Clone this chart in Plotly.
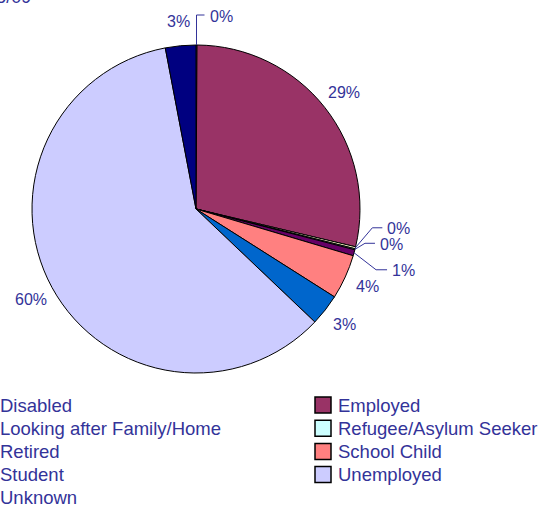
import math
import plotly.graph_objects as go

# ---- data ----
categories = ["Disabled", "Employed", "Looking after Family/Home", "Refugee/Asylum Seeker",
              "Retired", "School Child", "Student", "Unemployed", "Unknown"]
values = [0.1, 28.6, 0.2, 0.1, 0.6, 4.4, 3.1, 59.9, 3.0]
colors = ["#9999FF", "#993366", "#FFFFCC", "#CCFFFF", "#660066",
          "#FF8080", "#0066CC", "#CCCCFF", "#000080"]
title_text = "Client Employment Status 2008/09"

# ---- layout constants (pixels) ----
W, H = 541, 510
CX, CY, R = 196, 209, 164
LABEL_R = 188
TEXT_COLOR = "#333399"
FONT = "Liberation Sans, Arial, sans-serif"
# leader-line elbows for tiny slices: (dx, dy) from edge point, tail length
leaders = {
    "Disabled": (0, -30, 8),
    "Looking after Family/Home": (17, -20, 10),
    "Refugee/Asylum Seeker": (10, -6, 10),
    "Retired": (22, 17, 11),
}
# manual legend geometry: two columns, row-major
LEG_TEXT_X = [-2, 336]
LEG_ROW0_Y = 405
LEG_ROW_DY = 23.2
LEG_BOX = 16
LEG_BOX_GAP = 5


def px(x):
    return x / W


def py(y):
    return 1 - y / H


fig = go.Figure()
fig.add_trace(go.Pie(
    labels=categories, values=values, sort=False, direction="clockwise", rotation=0,
    marker=dict(colors=colors, line=dict(color="black", width=1)),
    textinfo="none", hoverinfo="label+percent", showlegend=False,
    domain=dict(x=[px(CX - R), px(CX + R)], y=[py(CY + R), py(CY - R)]),
))

total = sum(values)
cum = 0.0
annotations = []
shapes = []
for cat, v in zip(categories, values):
    mid = (cum + v / 2) / total * 360.0
    cum += v
    pct = f"{round(v / total * 100):.0f}%"
    s, c = math.sin(math.radians(mid)), math.cos(math.radians(mid))
    if cat in leaders:
        dx, dy, tail = leaders[cat]
        ex, ey = CX + R * s, CY - R * c
        bx, by = ex + dx, ey + dy
        tx = bx + tail
        shapes.append(dict(type="path", xref="paper", yref="paper",
                           path=f"M {px(ex)},{py(ey)} L {px(bx)},{py(by)} L {px(tx)},{py(by)}",
                           line=dict(color=TEXT_COLOR, width=1)))
        annotations.append(dict(x=px(tx + 3), y=py(by + 1), xref="paper", yref="paper",
                                text=pct, showarrow=False, xanchor="left", yanchor="middle",
                                font=dict(size=16, color=TEXT_COLOR, family=FONT)))
    else:
        lx, ly = CX + LABEL_R * s, CY - LABEL_R * c
        annotations.append(dict(x=px(lx), y=py(ly), xref="paper", yref="paper",
                                text=pct, showarrow=False, xanchor="center", yanchor="middle",
                                font=dict(size=16, color=TEXT_COLOR, family=FONT)))

# legend (row-major, two columns)
for i, (cat, col) in enumerate(zip(categories, colors)):
    row, colno = divmod(i, 2)
    tx = LEG_TEXT_X[colno]
    ty = LEG_ROW0_Y + row * LEG_ROW_DY
    x1 = tx - LEG_BOX_GAP
    x0 = x1 - LEG_BOX
    shapes.append(dict(type="rect", xref="paper", yref="paper",
                       x0=px(x0), x1=px(x1), y0=py(ty + LEG_BOX / 2), y1=py(ty - LEG_BOX / 2),
                       fillcolor=col, line=dict(color="black", width=1.5)))
    annotations.append(dict(x=px(tx), y=py(ty), xref="paper", yref="paper", text=cat,
                            showarrow=False, xanchor="left", yanchor="middle",
                            font=dict(size=18.5, color=TEXT_COLOR, family=FONT)))

# clipped title at the top-left
annotations.append(dict(x=px(33), y=py(9), xref="paper", yref="paper", text=title_text,
                        showarrow=False, xanchor="right", yanchor="bottom",
                        font=dict(size=18, color=TEXT_COLOR, family=FONT)))

fig.update_layout(
    width=W, height=H, margin=dict(l=0, r=0, t=0, b=0),
    paper_bgcolor="white", plot_bgcolor="white",
    annotations=annotations, shapes=shapes,
    showlegend=False,
)

fig.write_html("out.html", config={"displayModeBar": False},
               post_script="document.body.style.margin='0';document.body.style.overflow='hidden';")
